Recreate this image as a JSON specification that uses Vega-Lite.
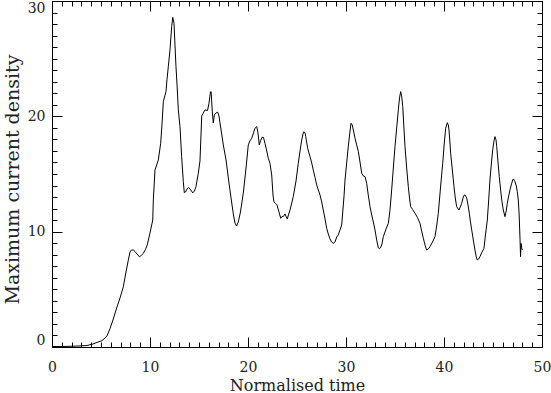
{
  "$schema": "https://vega.github.io/schema/vega-lite/v6.json",
  "width": 490,
  "height": 346,
  "autosize": {"type": "none"},
  "padding": {"left": 52, "top": 1, "right": 9, "bottom": 46},
  "background": "white",
  "config": {
    "view": {"stroke": null},
    "axis": {
      "domainColor": "#000",
      "domainWidth": 1,
      "tickColor": "#000",
      "tickWidth": 1,
      "grid": false,
      "labelFont": "DejaVu Serif",
      "labelFontSize": 14,
      "labelColor": "#222",
      "titleFont": "DejaVu Serif",
      "titleFontWeight": "normal",
      "titleColor": "#222"
    }
  },
  "data": {
    "values": [
      {"t": 0.0, "v": 0.04}, {"t": 0.82, "v": 0.04}, {"t": 1.84, "v": 0.06}, {"t": 2.86, "v": 0.09},
      {"t": 3.57, "v": 0.13}, {"t": 4.18, "v": 0.26}, {"t": 4.69, "v": 0.43}, {"t": 5.1, "v": 0.55},
      {"t": 5.41, "v": 0.78}, {"t": 5.61, "v": 0.95}, {"t": 5.92, "v": 1.6}, {"t": 6.22, "v": 2.34},
      {"t": 6.63, "v": 3.47}, {"t": 6.94, "v": 4.25}, {"t": 7.28, "v": 5.23}, {"t": 7.55, "v": 6.5},
      {"t": 7.79, "v": 7.55}, {"t": 7.96, "v": 8.24}, {"t": 8.11, "v": 8.41}, {"t": 8.3, "v": 8.41},
      {"t": 8.47, "v": 8.28}, {"t": 8.67, "v": 8.07}, {"t": 8.91, "v": 7.83}, {"t": 9.13, "v": 7.94},
      {"t": 9.32, "v": 8.13}, {"t": 9.54, "v": 8.46}, {"t": 9.72, "v": 8.85}, {"t": 10.0, "v": 9.89},
      {"t": 10.28, "v": 11.01}, {"t": 10.34, "v": 12.75}, {"t": 10.51, "v": 15.35}, {"t": 10.85, "v": 16.22},
      {"t": 11.09, "v": 17.67}, {"t": 11.22, "v": 19.25}, {"t": 11.36, "v": 21.27}, {"t": 11.63, "v": 22.14},
      {"t": 11.73, "v": 23.16}, {"t": 11.87, "v": 24.31}, {"t": 12.04, "v": 25.76}, {"t": 12.21, "v": 27.78},
      {"t": 12.32, "v": 28.58}, {"t": 12.45, "v": 28.07}, {"t": 12.55, "v": 26.19}, {"t": 12.65, "v": 24.31},
      {"t": 12.76, "v": 22.72}, {"t": 12.89, "v": 20.56}, {"t": 13.06, "v": 19.11}, {"t": 13.23, "v": 16.5},
      {"t": 13.4, "v": 14.34}, {"t": 13.5, "v": 13.38}, {"t": 13.62, "v": 13.44}, {"t": 13.78, "v": 13.7},
      {"t": 13.93, "v": 13.83}, {"t": 14.08, "v": 13.7}, {"t": 14.23, "v": 13.53}, {"t": 14.36, "v": 13.36},
      {"t": 14.54, "v": 13.53}, {"t": 14.69, "v": 13.9}, {"t": 14.93, "v": 15.07}, {"t": 15.1, "v": 16.13},
      {"t": 15.28, "v": 20.03}, {"t": 15.41, "v": 20.25}, {"t": 15.61, "v": 20.56}, {"t": 15.87, "v": 20.51},
      {"t": 16.02, "v": 21.14}, {"t": 16.17, "v": 22.12}, {"t": 16.24, "v": 22.14}, {"t": 16.36, "v": 20.38},
      {"t": 16.46, "v": 19.43}, {"t": 16.56, "v": 20.12}, {"t": 16.73, "v": 20.29}, {"t": 16.91, "v": 20.36},
      {"t": 17.04, "v": 20.03}, {"t": 17.14, "v": 19.43}, {"t": 17.3, "v": 18.56}, {"t": 17.48, "v": 17.52},
      {"t": 17.76, "v": 16.22}, {"t": 17.99, "v": 14.66}, {"t": 18.27, "v": 12.92}, {"t": 18.5, "v": 11.54},
      {"t": 18.67, "v": 10.75}, {"t": 18.83, "v": 10.49}, {"t": 19.01, "v": 10.84}, {"t": 19.23, "v": 11.71},
      {"t": 19.52, "v": 13.33}, {"t": 19.8, "v": 15.52}, {"t": 20.03, "v": 17.52}, {"t": 20.2, "v": 17.87},
      {"t": 20.38, "v": 18.1}, {"t": 20.56, "v": 18.56}, {"t": 20.71, "v": 18.97}, {"t": 20.89, "v": 19.11},
      {"t": 21.02, "v": 18.56}, {"t": 21.15, "v": 17.52}, {"t": 21.28, "v": 17.87}, {"t": 21.43, "v": 18.19},
      {"t": 21.58, "v": 18.17}, {"t": 21.73, "v": 17.67}, {"t": 21.89, "v": 17.09}, {"t": 22.07, "v": 16.37},
      {"t": 22.24, "v": 15.93}, {"t": 22.42, "v": 14.92}, {"t": 22.55, "v": 13.18}, {"t": 22.65, "v": 12.58},
      {"t": 22.81, "v": 12.45}, {"t": 22.96, "v": 12.32}, {"t": 23.16, "v": 11.71}, {"t": 23.34, "v": 11.16},
      {"t": 23.47, "v": 11.32}, {"t": 23.62, "v": 11.32}, {"t": 23.78, "v": 11.54}, {"t": 23.91, "v": 11.27},
      {"t": 24.01, "v": 11.1}, {"t": 24.13, "v": 11.45}, {"t": 24.29, "v": 11.88}, {"t": 24.49, "v": 12.58},
      {"t": 24.62, "v": 13.04}, {"t": 24.9, "v": 14.4}, {"t": 25.13, "v": 15.93}, {"t": 25.31, "v": 17.0},
      {"t": 25.48, "v": 17.95}, {"t": 25.61, "v": 18.47}, {"t": 25.71, "v": 18.67}, {"t": 25.82, "v": 18.56},
      {"t": 25.89, "v": 18.24}, {"t": 26.0, "v": 17.69}, {"t": 26.09, "v": 17.23}, {"t": 26.33, "v": 16.5},
      {"t": 26.5, "v": 15.96}, {"t": 26.66, "v": 15.35}, {"t": 26.84, "v": 14.7}, {"t": 27.01, "v": 14.05},
      {"t": 27.17, "v": 13.62}, {"t": 27.35, "v": 13.18}, {"t": 27.52, "v": 12.58}, {"t": 27.68, "v": 11.88},
      {"t": 27.86, "v": 11.1}, {"t": 28.03, "v": 10.29}, {"t": 28.19, "v": 9.8}, {"t": 28.37, "v": 9.37},
      {"t": 28.52, "v": 9.11}, {"t": 28.7, "v": 8.99}, {"t": 28.88, "v": 9.11}, {"t": 29.05, "v": 9.54},
      {"t": 29.21, "v": 9.71}, {"t": 29.39, "v": 10.15}, {"t": 29.56, "v": 10.58}, {"t": 29.66, "v": 11.62},
      {"t": 29.8, "v": 13.1}, {"t": 29.9, "v": 14.48}, {"t": 30.07, "v": 15.96}, {"t": 30.23, "v": 17.37},
      {"t": 30.39, "v": 18.56}, {"t": 30.51, "v": 19.4}, {"t": 30.64, "v": 19.25}, {"t": 30.77, "v": 18.73},
      {"t": 30.92, "v": 18.1}, {"t": 31.09, "v": 17.52}, {"t": 31.26, "v": 16.94}, {"t": 31.43, "v": 16.04},
      {"t": 31.6, "v": 15.07}, {"t": 31.77, "v": 14.83}, {"t": 31.94, "v": 14.77}, {"t": 32.11, "v": 14.2},
      {"t": 32.27, "v": 13.18}, {"t": 32.45, "v": 12.17}, {"t": 32.62, "v": 11.45}, {"t": 32.79, "v": 10.84},
      {"t": 32.96, "v": 10.15}, {"t": 33.13, "v": 9.28}, {"t": 33.3, "v": 8.59}, {"t": 33.39, "v": 8.54},
      {"t": 33.52, "v": 8.59}, {"t": 33.67, "v": 8.93}, {"t": 33.81, "v": 9.57}, {"t": 34.05, "v": 10.15},
      {"t": 34.32, "v": 10.73}, {"t": 34.49, "v": 11.88}, {"t": 34.66, "v": 13.62}, {"t": 34.83, "v": 15.52},
      {"t": 35.0, "v": 17.37}, {"t": 35.17, "v": 18.99}, {"t": 35.34, "v": 20.56}, {"t": 35.46, "v": 21.6},
      {"t": 35.58, "v": 22.14}, {"t": 35.68, "v": 21.77}, {"t": 35.79, "v": 20.84}, {"t": 35.9, "v": 19.17},
      {"t": 36.02, "v": 17.37}, {"t": 36.19, "v": 15.52}, {"t": 36.36, "v": 13.9}, {"t": 36.48, "v": 12.92},
      {"t": 36.6, "v": 12.17}, {"t": 36.79, "v": 11.93}, {"t": 37.04, "v": 11.6}, {"t": 37.29, "v": 11.23},
      {"t": 37.55, "v": 10.73}, {"t": 37.72, "v": 10.06}, {"t": 37.89, "v": 9.43}, {"t": 38.06, "v": 8.85},
      {"t": 38.23, "v": 8.41}, {"t": 38.4, "v": 8.5}, {"t": 38.57, "v": 8.7}, {"t": 38.83, "v": 9.11},
      {"t": 39.08, "v": 9.57}, {"t": 39.25, "v": 10.49}, {"t": 39.42, "v": 11.6}, {"t": 39.64, "v": 13.79},
      {"t": 39.87, "v": 15.93}, {"t": 40.03, "v": 17.69}, {"t": 40.17, "v": 18.97}, {"t": 40.34, "v": 19.45},
      {"t": 40.44, "v": 19.25}, {"t": 40.51, "v": 18.82}, {"t": 40.61, "v": 17.69}, {"t": 40.68, "v": 16.8},
      {"t": 40.85, "v": 15.35}, {"t": 41.02, "v": 13.9}, {"t": 41.15, "v": 12.92}, {"t": 41.29, "v": 12.17},
      {"t": 41.53, "v": 11.88}, {"t": 41.81, "v": 12.46}, {"t": 41.94, "v": 12.92}, {"t": 42.07, "v": 13.18},
      {"t": 42.19, "v": 13.14}, {"t": 42.32, "v": 12.9}, {"t": 42.45, "v": 12.32}, {"t": 42.58, "v": 11.6},
      {"t": 42.7, "v": 10.84}, {"t": 42.83, "v": 10.15}, {"t": 42.99, "v": 9.28}, {"t": 43.16, "v": 8.41},
      {"t": 43.29, "v": 7.81}, {"t": 43.4, "v": 7.55}, {"t": 43.54, "v": 7.63}, {"t": 43.67, "v": 7.83},
      {"t": 43.88, "v": 8.24}, {"t": 44.08, "v": 8.56}, {"t": 44.23, "v": 9.71}, {"t": 44.42, "v": 11.01},
      {"t": 44.56, "v": 12.75}, {"t": 44.69, "v": 14.48}, {"t": 44.85, "v": 16.04}, {"t": 44.97, "v": 17.09},
      {"t": 45.1, "v": 17.87}, {"t": 45.2, "v": 18.24}, {"t": 45.31, "v": 17.95}, {"t": 45.38, "v": 17.37},
      {"t": 45.51, "v": 16.04}, {"t": 45.64, "v": 14.77}, {"t": 45.77, "v": 13.7}, {"t": 45.89, "v": 12.75},
      {"t": 46.05, "v": 11.88}, {"t": 46.22, "v": 11.3}, {"t": 46.35, "v": 11.8}, {"t": 46.46, "v": 12.46},
      {"t": 46.6, "v": 13.1}, {"t": 46.73, "v": 13.62}, {"t": 46.89, "v": 14.14}, {"t": 47.01, "v": 14.48},
      {"t": 47.09, "v": 14.57}, {"t": 47.24, "v": 14.34}, {"t": 47.38, "v": 13.96}, {"t": 47.48, "v": 13.47},
      {"t": 47.58, "v": 12.75}, {"t": 47.67, "v": 11.45}, {"t": 47.76, "v": 9.28}, {"t": 47.81, "v": 7.83},
      {"t": 47.86, "v": 8.99}, {"t": 47.93, "v": 8.59}, {"t": 47.99, "v": 8.41}
    ]
  },
  "layer": [
    {
      "mark": {"type": "line", "color": "#000", "strokeWidth": 1, "clip": true},
      "encoding": {
        "x": {
          "field": "t", "type": "quantitative",
          "scale": {"domain": [0, 50], "nice": false, "zero": false},
          "axis": {
            "orient": "bottom",
            "title": "Normalised time",
            "titleFontSize": 16,
            "titleY": 46,
            "titleBaseline": "bottom",
            "values": [0,1,2,3,4,5,6,7,8,9,10,11,12,13,14,15,16,17,18,19,20,21,22,23,24,25,26,27,28,29,30,31,32,33,34,35,36,37,38,39,40,41,42,43,44,45,46,47,48,49,50],
            "labelExpr": "datum.value % 10 === 0 ? datum.label : ''",
            "tickSize": {"condition": {"test": "datum.value % 10 === 0", "value": -10}, "value": -5},
            "labelPadding": 23,
            "labelFlush": false,
            "labelOverlap": false
          }
        },
        "y": {
          "field": "v", "type": "quantitative",
          "scale": {"domain": [0, 30], "nice": false, "zero": false},
          "axis": {
            "orient": "left",
            "title": "Maximum current density",
            "titleFontSize": 19,
            "titleX": -34,
            "titleY": 178,
            "titleBaseline": "alphabetic",
            "values": [0,1,2,3,4,5,6,7,8,9,10,11,12,13,14,15,16,17,18,19,20,21,22,23,24,25,26,27,28,29,30],
            "labelExpr": "datum.value % 10 === 0 ? datum.label : ''",
            "tickSize": {"condition": {"test": "datum.value % 10 === 0", "value": -10}, "value": -5},
            "labelPadding": 17,
            "labelFlush": true,
            "labelOverlap": false
          }
        }
      }
    },
    {
      "mark": {"type": "line", "opacity": 0, "clip": true},
      "encoding": {
        "x": {
          "field": "t", "type": "quantitative",
          "axis": {
            "orient": "top",
            "title": null,
            "labels": false,
            "values": [0,1,2,3,4,5,6,7,8,9,10,11,12,13,14,15,16,17,18,19,20,21,22,23,24,25,26,27,28,29,30,31,32,33,34,35,36,37,38,39,40,41,42,43,44,45,46,47,48,49,50],
            "tickSize": {"condition": {"test": "datum.value % 10 === 0", "value": -10}, "value": -5}
          }
        },
        "y": {
          "field": "v", "type": "quantitative",
          "axis": {
            "orient": "right",
            "title": null,
            "labels": false,
            "values": [0,1,2,3,4,5,6,7,8,9,10,11,12,13,14,15,16,17,18,19,20,21,22,23,24,25,26,27,28,29,30],
            "tickSize": {"condition": {"test": "datum.value % 10 === 0", "value": -10}, "value": -5}
          }
        }
      }
    }
  ],
  "resolve": {"axis": {"x": "independent", "y": "independent"}}
}
